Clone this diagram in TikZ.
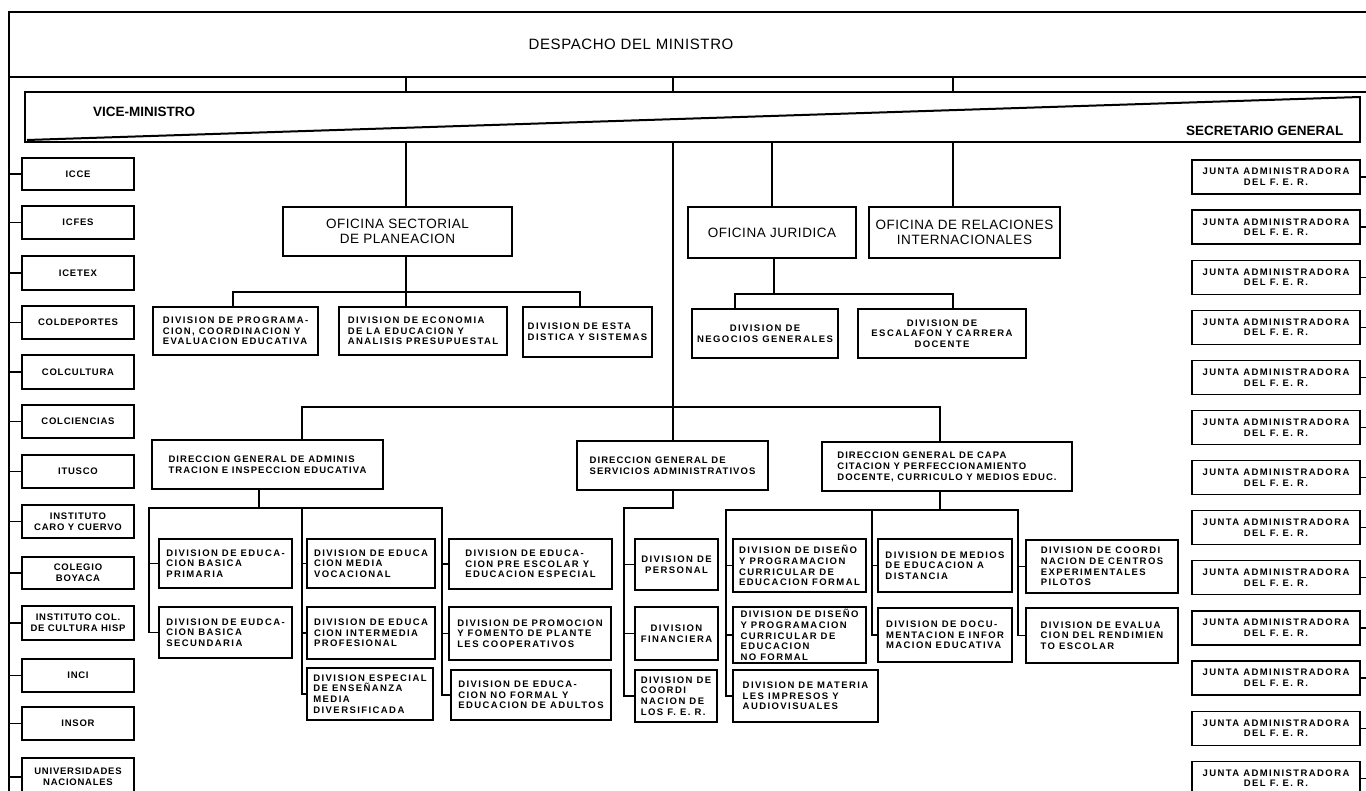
\documentclass[tikz,border=0pt]{standalone}
\usepackage{fontspec}
\setmainfont{Liberation Sans}
\newfontfamily\bxf[LetterSpace=15]{Liberation Sans}
\newfontfamily\lcf[LetterSpace=8]{Liberation Sans}
\newfontfamily\dgf[LetterSpace=11]{Liberation Sans}
\newfontfamily\hdf[LetterSpace=4]{Liberation Sans}
\tikzset{
  ln/.style={line width=1.2pt, line cap=rect},
  thickln/.style={line width=1.5pt, line cap=rect},
  bx/.style={draw, line width=1.2pt, inner sep=0pt, align=center, font=\bxf\bfseries\fontsize{9.5}{10.7}\selectfont},
  dv/.style={bx, align=left},
  lc/.style={bx, font=\lcf\bfseries\fontsize{9.5}{11}\selectfont},
  dg/.style={bx, align=left, font=\dgf\bfseries\fontsize{9.5}{11}\selectfont},
  of/.style={draw, line width=1.2pt, inner sep=0pt, align=center, font=\hdf\fontsize{13.5}{14.5}\selectfont},
  ttl/.style={font=\hdf\fontsize{15}{16}\selectfont},
  bandtxt/.style={font=\bfseries\fontsize{13.5}{14}\selectfont},
}
\newcommand{\boxat}[7]{\node[#7, minimum width={#4-#2}, minimum height={#5-#3}] (#1) at ({(#2+#4)/2},{(#3+#5)/2}) {#6};}
\begin{document}
\begin{tikzpicture}[x=1pt,y=-1pt]
\useasboundingbox (0,0) rectangle (1366,791);
\fill[white] (0,0) rectangle (1366,791);

% ---------- despacho ----------
\coordinate (dTL) at (9,12); \coordinate (dTR) at (1366,12);
\coordinate (dBL) at (9,77); \coordinate (dBR) at (1366,77);
\coordinate (spB) at (9,791);
\draw[thickln] (dTR) -- (dTL) -- (spB);
\draw[thickln] (dBL) -- (dBR);
\node[ttl] (desp) at (631,44) {DESPACHO DEL MINISTRO};

% ---------- vice-ministro / secretario band ----------
\coordinate (vTR) at (1366,92); \coordinate (vTL) at (25,92);
\coordinate (vBL) at (25,142); \coordinate (vBR) at (1360,142);
\coordinate (sgT) at (1360,97); \coordinate (dgS) at (27,140);
\draw[thickln] (vTR) -- (vTL) -- (vBL) -- (vBR) -- (sgT);
\draw[line width=2pt] (dgS) -- (sgT);
\node[bandtxt] (vm) at (144,112) {VICE-MINISTRO};
\node[bandtxt, anchor=east] (sg) at (1347,131) {SECRETARIO GENERAL};

\foreach \x [count=\k] in {406,673,953} {
  \coordinate (up\k) at (\x,77);
  \draw[ln] (up\k) -- (up\k |- vTL);
}

% ---------- oficinas ----------
\boxat{sect}{283}{207}{512}{256}{OFICINA SECTORIAL\\DE PLANEACION}{of}
\boxat{jur}{688}{207}{856}{258}{OFICINA JURIDICA}{of}
\boxat{rel}{869}{207}{1060}{258}{OFICINA DE RELACIONES\\INTERNACIONALES}{of}
\coordinate (bS) at (406,142); \coordinate (bT) at (673,142);
\coordinate (bJ) at (772,142); \coordinate (bR) at (953,142);
\draw[ln] (bS) -- (bS |- sect.north);
\draw[ln] (bJ) -- (bJ |- jur.north);
\draw[ln] (bR) -- (bR |- rel.north);

% planeacion divisions
\boxat{pa}{153}{307}{318}{355}{DIVISION DE PROGRAMA-\\CION, COORDINACION Y\\EVALUACION EDUCATIVA}{dv}
\boxat{pb}{339}{307}{507}{355}{DIVISION DE ECONOMIA\\DE LA EDUCACION Y\\ANALISIS PRESUPUESTAL}{dv}
\boxat{pc}{523}{307}{652}{357}{DIVISION DE ESTA\\DISTICA Y SISTEMAS}{dv}
\coordinate (sL) at (233,292); \coordinate (sR) at (580,292);
\draw[ln] (bS |- sect.south) -- (bS |- pb.north);
\draw[ln] (sL |- pa.north) -- (sL) -- (sR) -- (sR |- pc.north);

% juridica divisions
\boxat{ja}{692}{309}{838}{358}{DIVISION DE\\NEGOCIOS GENERALES}{bx}
\boxat{jb}{858}{309}{1026}{358}{DIVISION DE\\ESCALAFON Y CARRERA\\DOCENTE}{bx}
\coordinate (jL) at (735,294); \coordinate (jR) at (953,294); \coordinate (jM) at (774,294);
\draw[ln] (jM |- jur.south) -- (jM);
\draw[ln] (jL |- ja.north) -- (jL) -- (jR) -- (jR |- jb.north);

% ---------- direcciones ----------
\boxat{dga}{152}{440}{383}{489}{DIRECCION GENERAL DE ADMINIS\\TRACION E INSPECCION EDUCATIVA}{dg}
\boxat{dgs}{577}{441}{768}{490}{DIRECCION GENERAL DE\\SERVICIOS ADMINISTRATIVOS}{dg}
\boxat{dgc}{822}{442}{1072}{491}{DIRECCION GENERAL DE CAPA\\CITACION Y PERFECCIONAMIENTO\\DOCENTE, CURRICULO Y MEDIOS EDUC.}{dg}
\coordinate (gL) at (302,407); \coordinate (gR) at (940,407);
\draw[ln] (bT) -- (bT |- dgs.north);
\draw[ln] (gL |- dga.north) -- (gL) -- (gR) -- (gR |- dgc.north);

% admin group
\boxat{a1}{159}{539}{292}{588}{DIVISION DE EDUCA-\\CION BASICA\\PRIMARIA}{dv}
\boxat{a2}{159}{607}{292}{658}{DIVISION DE EUDCA-\\CION BASICA\\SECUNDARIA}{dv}
\boxat{b1}{307}{539}{435}{588}{DIVISION DE EDUCA\\CION MEDIA\\VOCACIONAL}{dv}
\boxat{b2}{307}{607}{435}{659}{DIVISION DE EDUCA\\CION INTERMEDIA\\PROFESIONAL}{dv}
\boxat{b3}{307}{668}{433}{720}{DIVISION ESPECIAL\\DE ENSEÑANZA\\MEDIA\\DIVERSIFICADA}{dv}
\boxat{c1}{449}{539}{612}{589}{DIVISION DE EDUCA-\\CION PRE ESCOLAR Y\\EDUCACION ESPECIAL}{dv}
\boxat{c2}{449}{607}{611}{660}{DIVISION DE PROMOCION\\Y FOMENTO DE PLANTE\\LES COOPERATIVOS}{dv}
\boxat{c3}{451}{670}{611}{720}{DIVISION DE EDUCA-\\CION NO FORMAL Y\\EDUCACION DE ADULTOS}{dv}
\coordinate (aM) at (259,508); \coordinate (aL) at (149,508);
\coordinate (aC) at (302,508); \coordinate (aR) at (442,508);
\draw[ln] (aM |- dga.south) -- (aM);
\draw[ln] (a2.west) -- (aL |- a2.west) -- (aL) -- (aR) -- (aR |- c3.west) -- (c3.west);
\draw[ln] (aL |- a1.west) -- (a1.west);
\draw[ln] (aC) -- (aC |- b3.west) -- (b3.west);
\draw[ln] (aC |- b1.west) -- (b1.west);
\draw[ln] (aC |- b2.west) -- (b2.west);
\draw[ln] (aR |- c1.west) -- (c1.west);
\draw[ln] (aR |- c2.west) -- (c2.west);

% servicios group
\boxat{s1}{635}{539}{718}{590}{DIVISION DE\\PERSONAL}{bx}
\boxat{s2}{635}{607}{718}{660}{DIVISION\\FINANCIERA}{bx}
\boxat{s3}{635}{670}{717}{722}{DIVISION DE\\COORDI\\NACION DE\\LOS F. E. R.}{dv}
\coordinate (sM) at (673,508); \coordinate (sS) at (624,508);
\draw[ln] (sM |- dgs.south) -- (sM) -- (sS) -- (sS |- s3.west) -- (s3.west);
\draw[ln] (sS |- s1.west) -- (s1.west);
\draw[ln] (sS |- s2.west) -- (s2.west);

% capacitacion group
\boxat{k1}{733}{539}{866}{592}{DIVISION DE DISEÑO\\Y PROGRAMACION\\CURRICULAR DE\\EDUCACION FORMAL}{dv}
\boxat{k2}{733}{607}{866}{663}{DIVISION DE DISEÑO\\Y PROGRAMACION\\CURRICULAR DE\\EDUCACION\\NO FORMAL}{dv}
\boxat{k3}{733}{670}{878}{722}{DIVISION DE MATERIA\\LES IMPRESOS Y\\AUDIOVISUALES}{dv}
\boxat{m1}{878}{539}{1012}{592}{DIVISION DE MEDIOS\\DE EDUCACION A\\DISTANCIA}{dv}
\boxat{m2}{878}{608}{1012}{662}{DIVISION DE DOCU-\\MENTACION E INFOR\\MACION EDUCATIVA}{dv}
\boxat{e1}{1026}{540}{1178}{593}{DIVISION DE COORDI\\NACION DE CENTROS\\EXPERIMENTALES\\PILOTOS}{dv}
\boxat{e2}{1026}{608}{1178}{663}{DIVISION DE EVALUA\\CION DEL RENDIMIEN\\TO ESCOLAR}{dv}
\coordinate (cM) at (940,510); \coordinate (cA) at (726,510);
\coordinate (cB) at (872,510); \coordinate (cC) at (1018,510);
\draw[ln] (cM |- dgc.south) -- (cM);
\draw[ln] (k3.west) -- (cA |- k3.west) -- (cA) -- (cC) -- (cC |- e2.west) -- (e2.west);
\draw[ln] (cA |- k1.west) -- (k1.west);
\draw[ln] (cA |- k2.west) -- (k2.west);
\draw[ln] (cB) -- (cB |- m2.west) -- (m2.west);
\draw[ln] (cB |- m1.west) -- (m1.west);
\draw[ln] (cC |- e1.west) -- (e1.west);

% ---------- left column ----------
\boxat{l1}{22}{158}{134}{190}{ICCE}{lc}
\boxat{l2}{22}{206}{134}{239}{ICFES}{lc}
\boxat{l3}{22}{256}{134}{290}{ICETEX}{lc}
\boxat{l4}{22}{306}{134}{339}{COLDEPORTES}{lc}
\boxat{l5}{22}{355}{134}{389}{COLCULTURA}{lc}
\boxat{l6}{22}{405}{134}{438}{COLCIENCIAS}{lc}
\boxat{l7}{22}{455}{134}{488}{ITUSCO}{lc}
\boxat{l8}{22}{505}{134}{538}{INSTITUTO\\CARO Y CUERVO}{lc}
\boxat{l9}{22}{557}{134}{589}{COLEGIO\\BOYACA}{lc}
\boxat{l10}{22}{606}{134}{640}{INSTITUTO COL.\\DE CULTURA HISP}{lc}
\boxat{l11}{22}{659}{134}{692}{INCI}{lc}
\boxat{l12}{22}{707}{134}{740}{INSOR}{lc}
\boxat{l13}{22}{758}{134}{796}{UNIVERSIDADES\\NACIONALES}{lc}
\foreach \i in {1,...,13} \draw[ln] (spB |- l\i.west) -- (l\i.west);

% ---------- right column ----------
\foreach \i in {0,...,12} {
  \pgfmathsetmacro\t{160+50.1*\i}
  \boxat{r\i}{1192}{\t}{1360}{\t+34}{JUNTA ADMINISTRADORA\\DEL F. E. R.}{bx}
  \coordinate (rr\i) at (1366,\t+17);
  \draw[ln] (r\i.east) -- (rr\i);
}
\end{tikzpicture}
\end{document}
